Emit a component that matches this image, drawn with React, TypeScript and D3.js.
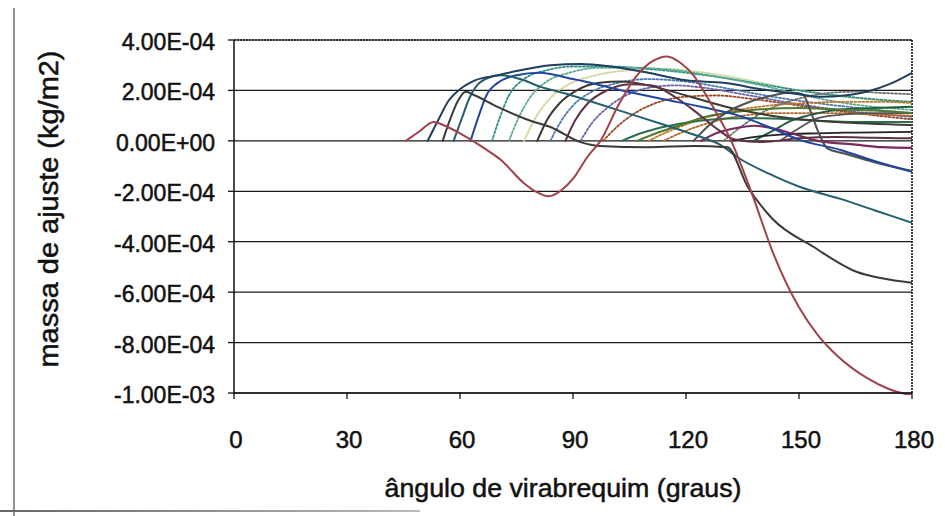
import React from "react";
import * as d3 from "d3";

// ---- data (values in units of 1E-04 kg/m2, angle in degrees) ----
const xTicks = [0, 30, 60, 90, 120, 150, 180];
const yTicks = [4, 2, 0, -2, -4, -6, -8, -10];
const yTickLabels = ["4.00E-04", "2.00E-04", "0.00E+00", "-2.00E-04", "-4.00E-04", "-6.00E-04", "-8.00E-04", "-1.00E-03"];

const sBrown = [[45.6,0],[49,0.35],[53,0.75],[56,0.6],[60,0.3],[63.4,0],[67,-0.35],[70.8,-0.75],[76.9,-1.67],[80,-2.0],[83.5,-2.2],[87,-1.95],[90,-1.5],[94,-0.6],[97.3,0],[102,1.4],[107,2.6],[111,3.15],[115,3.35],[118.5,3.1],[122,2.6],[125,1.9],[128.5,1.0],[132,0],[135,-1.1],[138,-2.3],[143,-4.4],[150,-6.6],[155,-7.7],[160,-8.5],[168,-9.4],[174,-9.85],[180,-10.1]];
const sNavy = [[51.4,0],[54.3,0.85],[57,1.6],[60,2.05],[64,2.4],[70,2.6],[76,2.8],[84,3.0],[92,3.05],[100,2.95],[110,2.7],[120,2.4],[130,2.3],[140,2.05],[150,1.85],[156,1.75],[162,1.8],[168,1.95],[174,2.25],[180,2.7]];
const sGrayA = [[55.4,0],[57.5,0.9],[59.5,1.6],[61.5,1.95],[64,1.8],[70,1.35],[78.7,0.8],[84,0.55],[92,-0.05],[97,-0.2],[110,-0.25],[122,-0.2],[131,-0.25],[136.3,-1.8],[143,-3.1],[153.8,-4.2],[165.4,-5.2],[172,-5.45],[180,-5.63]];
const sTealB = [[58.3,0],[60.5,0.9],[62.5,1.7],[64.5,2.2],[67.5,2.5],[71,2.6],[76,2.45],[81.4,2.14],[87.5,1.9],[95,1.55],[104.5,1.1],[115,0.6],[122,0.25],[129,-0.15],[134.4,-0.72],[142,-1.3],[150.3,-1.83],[161,-2.3],[170,-2.75],[180,-3.25]];
const sBlueC = [[62.8,0],[65,1.0],[67,1.8],[70,2.3],[75,2.6],[81,2.7],[90,2.45],[103,2.0],[114,1.65],[124,1.35],[134,1.0],[142,0.55],[150,0.05],[161,-0.36],[170,-0.8],[180,-1.23]];
const sDotTeal1 = [[68.5,0],[70.5,0.9],[73,1.8],[77,2.45],[83,2.8],[90,2.95],[100,2.95],[110,2.85],[120,2.7],[130,2.5],[140,2.25],[150,2.0],[160,1.8],[170,1.65],[180,1.55]];
const sDotTeal2 = [[73,0],[75.5,0.9],[78.5,1.7],[83,2.35],[89,2.7],[97,2.9],[107,2.9],[117,2.8],[128,2.55],[140,2.2],[150,1.85],[160,1.55],[170,1.35],[180,1.23]];
const sDotYellow = [[77,0],[80,0.9],[84,1.7],[89,2.25],[96,2.6],[105,2.8],[115,2.85],[125,2.7],[135,2.45],[150,2.0],[165,1.7],[180,1.5]];
const sDarkOlive = [[80.5,0],[83,0.8],[86.5,1.5],[91,2.0],[97,2.3],[103,2.35],[110,2.2],[120,1.8],[132,1.3],[145,0.95],[160,0.75],[180,0.63]];
const sSteel = [[84,0],[86.5,0.7],[90,1.4],[95,1.95],[102,2.3],[110,2.45],[120,2.35],[132,2.05],[145,1.7],[160,1.4],[180,1.1]];
const sMaroon = [[88,0],[90.5,0.8],[94,1.5],[99,2.0],[105,2.25],[111,2.2],[117,1.75],[123,1.1],[128,0.5],[133,0.05],[140,-0.05],[150,0.1],[160,0.15],[170,0.12],[180,0.1]];
const sPurple = [[92,0],[95,0.7],[99,1.3],[104,1.8],[110,2.1],[117,2.2],[125,2.1],[135,1.85],[148,1.5],[162,1.2],[180,0.95]];
const sBrownDot = [[98,0],[102,0.6],[107,1.15],[113,1.55],[120,1.75],[128,1.8],[138,1.65],[150,1.4],[165,1.1],[180,0.85]];
const sGreen1 = [[103,0],[108,0.3],[114,0.55],[120,0.72],[127,0.85],[135,0.9],[145,0.88],[155,0.8],[165,0.75],[180,0.75]];
const sGreen2 = [[107,0],[113,0.35],[119,0.65],[125,0.95],[131,1.1],[140,1.25],[150,1.3],[160,1.25],[170,1.2],[180,1.1]];
const sOrange1 = [[110,0],[115,0.35],[120,0.65],[126,0.95],[133,1.2],[142,1.4],[152,1.5],[162,1.55],[172,1.55],[180,1.5]];
const sOrange2 = [[114,0],[120,0.4],[127,0.75],[135,1.0],[145,1.1],[158,1.1],[170,1.05],[180,1.0]];
const sMagenta = [[124,0],[128,0.3],[133,0.5],[138,0.6],[143,0.5],[148,0.3],[155,0.0],[165,-0.15],[172,-0.25],[180,-0.28]];
const sGrayDrop = [[122,0],[126,0.6],[131,1.15],[137,1.55],[143,1.8],[148,1.92],[151,1.85],[153,1.2],[155,0.4],[157.5,-0.3],[162,-0.5],[170,-0.85],[180,-1.2]];
const sGrayHigh = [[130,0],[135,0.6],[140,1.1],[146,1.5],[152,1.75],[158,1.9],[165,1.95],[172,1.9],[180,1.85]];
const sBlack = [[132,0],[138,0.15],[145,0.25],[155,0.3],[165,0.33],[180,0.36]];
const sDarkGreen = [[138,0],[143,0.4],[148,0.8],[155,1.1],[162,1.25],[170,1.3],[180,1.35]];
const sGray2 = [[145,0],[150,0.5],[155,0.9],[162,1.05],[170,1.1],[180,1.1]];

const seriesData = [sDotYellow, sDotTeal1, sDotTeal2, sSteel, sPurple, sBrownDot, sOrange1, sOrange2, sGrayHigh, sGray2, sDarkGreen, sBlack, sGreen1, sGreen2, sMagenta, sDarkOlive, sMaroon, sGrayDrop, sBlueC, sTealB, sGrayA, sNavy, sBrown];

// styles kept apart from the data
const seriesStyles = [
  { color: "#cfd9a0", width: 2, dash: "2,2" },
  { color: "#2f8f86", width: 1.8, dash: "2,2" },
  { color: "#5aaa92", width: 1.8, dash: "2,2" },
  { color: "#4a78b0", width: 1.8, dash: "2,2" },
  { color: "#6b5fa8", width: 1.8, dash: "2,2" },
  { color: "#9b4a25", width: 1.8, dash: "2,2" },
  { color: "#c07828", width: 1.8, dash: "2,2" },
  { color: "#b8662a", width: 1.8, dash: "2,2" },
  { color: "#6e6e6e", width: 1.8, dash: "2,2" },
  { color: "#555555", width: 1.8, dash: null },
  { color: "#1f5f3f", width: 2, dash: null },
  { color: "#222222", width: 1.8, dash: null },
  { color: "#2d6e4e", width: 2, dash: null },
  { color: "#4f7a2e", width: 2, dash: null },
  { color: "#7a2a5e", width: 2.2, dash: null },
  { color: "#3b3b33", width: 2, dash: null },
  { color: "#5e2f45", width: 2, dash: null },
  { color: "#4e4e4e", width: 2, dash: null },
  { color: "#1f45a0", width: 2, dash: null },
  { color: "#24606c", width: 2, dash: null },
  { color: "#3a3a3a", width: 2, dash: null },
  { color: "#1f3f5f", width: 2, dash: null },
  { color: "#a0404a", width: 2, dash: null },
];

const W = 945, H = 516;
const left = 234, right = 912, top = 40, bottom = 393;

export default function App() {
  const x = d3.scaleLinear().domain([0, 180]).range([left, right]);
  const y = d3.scaleLinear().domain([-10, 4]).range([bottom, top]);
  const line = d3.line<number[]>().x(d => x(d[0])).y(d => y(d[1])).curve(d3.curveMonotoneX);
  const font = "Arial, 'Liberation Sans', sans-serif";
  const txt = { fill: "#111", stroke: "#111", strokeWidth: 0.5 };
  return (
    <svg width={W} height={H} style={{ position: "absolute", left: 0, top: 0, background: "#fff" }} fontFamily={font}>
      <defs>
        <clipPath id="plot"><rect x={left} y={top - 2} width={right - left} height={bottom - top + 4} /></clipPath>
        <linearGradient id="fade" x1="0" x2="1">
          <stop offset="0" stopColor="#666" />
          <stop offset="1" stopColor="#bbb" />
        </linearGradient>
      </defs>
      <rect x={0} y={0} width={W} height={H} fill="#fff" />
      {/* scanned frame edges */}
      <line x1={14} x2={14} y1={8} y2={H} stroke="#777" strokeWidth={1.6} />
      <rect x={0} y={510} width={420} height={2} fill="url(#fade)" />
      {/* gridlines */}
      {yTicks.map((t, i) => (
        <line key={"g" + i} x1={left} x2={right} y1={y(t)} y2={y(t)} stroke="#1a1a1a" strokeWidth={1.2} />
      ))}
      {/* plot border dotted top/right */}
      <line x1={left} x2={right} y1={top} y2={top} stroke="#111" strokeWidth={1.6} strokeDasharray="2,1" />
      <line x1={right} x2={right} y1={top} y2={bottom} stroke="#111" strokeWidth={1.6} strokeDasharray="2,1" />
      {/* series */}
      <g clipPath="url(#plot)" fill="none" strokeLinejoin="round" strokeLinecap="round">
        {seriesData.map((s, i) => (
          <path key={"s" + i} d={line(s) || ""} stroke={seriesStyles[i].color} strokeWidth={seriesStyles[i].width}
            strokeDasharray={seriesStyles[i].dash || undefined} />
        ))}
      </g>
      {/* axes */}
      <line x1={left} x2={left} y1={top} y2={bottom} stroke="#111" strokeWidth={1.5} />
      <line x1={left} x2={right} y1={bottom} y2={bottom} stroke="#111" strokeWidth={1.5} />
      {yTicks.map((t, i) => (
        <g key={"yt" + i}>
          <line x1={left - 6} x2={left} y1={y(t)} y2={y(t)} stroke="#111" strokeWidth={1.3} />
          <text x={215} y={y(t) + 2} textAnchor="end" dominantBaseline="central" fontSize={23} {...txt}>{yTickLabels[i]}</text>
        </g>
      ))}
      {xTicks.map((t, i) => (
        <g key={"xt" + i}>
          <line x1={x(t)} x2={x(t)} y1={bottom} y2={bottom + 6} stroke="#111" strokeWidth={1.3} />
          <text x={x(t) + 2} y={448} textAnchor="middle" fontSize={24} {...txt}>{t}</text>
        </g>
      ))}
      <text x={563} y={497} textAnchor="middle" fontSize={26} {...txt} textLength={357} lengthAdjust="spacingAndGlyphs">ângulo de virabrequim (graus)</text>
      <text transform="translate(58,209) rotate(-90)" textAnchor="middle" fontSize={27} {...txt} textLength={317} lengthAdjust="spacingAndGlyphs">massa de ajuste (kg/m2)</text>
    </svg>
  );
}
